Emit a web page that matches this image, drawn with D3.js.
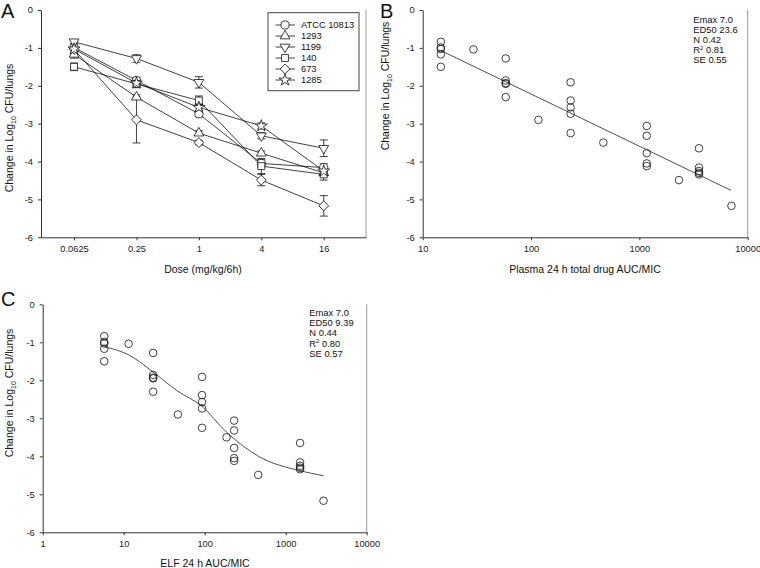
<!DOCTYPE html>
<html><head><meta charset="utf-8">
<script src="https://cdn.jsdelivr.net/npm/d3@7"></script>
<style>
body{margin:0;background:#fff;}
svg{display:block;font-family:"Liberation Sans",Arial,Helvetica,sans-serif;}
.tick text{font-size:9.3px;fill:#222;}
</style></head>
<body>
<svg id="chart" width="760" height="568"></svg>
<script>
// ---------- Data ----------
const doses = [0.0625, 0.25, 1, 4, 16];
const doseLabels = ["0.0625", "0.25", "1", "4", "16"];
const strainNames = ["ATCC 10813", "1293", "1199", "140", "673", "1285"];
const strainSymbols = ["circle", "triUp", "triDown", "square", "diamond", "star"];
const respATCC = [-0.99, -1.86, -2.74, -4.05, -4.16];
const resp1293 = [-1.17, -2.30, -3.25, -3.78, -4.30];
const resp1199 = [-0.84, -1.28, -1.91, -3.32, -3.65];
const resp140  = [-1.50, -1.95, -2.39, -4.12, -4.34];
const resp673  = [-1.04, -2.90, -3.50, -4.49, -5.17];
const resp1285 = [-1.03, -1.93, -2.57, -3.06, -4.25];
const errATCC = [0.08, 0.08, 0.08, 0.10, 0.10];
const err1293 = [0.10, 0.06, 0.06, 0.06, 0.06];
const err1199 = [0.05, 0.10, 0.15, 0.08, 0.22];
const err140  = [0.10, 0.10, 0.12, 0.20, 0.15];
const err673  = [0.08, 0.61, 0.06, 0.15, 0.27];
const err1285 = [0.05, 0.10, 0.08, 0.08, 0.10];

const plasmaAUC = [14.7,14.7,14.7,14.7,14.7, 29.4, 58.4,58.4,58.4,58.4,58.4, 117,
  232,232,232,232,232, 465, 1170,1170,1170,1170,1170, 2323, 3550,3550,3550,3550,3550, 7080];
const plasmaResp = [-0.84,-0.99,-1.03,-1.17,-1.50, -1.04, -1.28,-1.86,-1.93,-1.95,-2.30, -2.90,
  -1.91,-2.39,-2.57,-2.74,-3.25, -3.50, -3.06,-3.32,-3.78,-4.05,-4.12, -4.49, -3.65,-4.16,-4.25,-4.30,-4.34, -5.17];
const plasmaFitX = [14.7, 7000];
const plasmaFitY = [-1.07, -4.76];

const elfAUC = [5.75,5.75,5.75,5.75,5.75, 11.5, 23.1,23.1,23.1,23.1,23.1, 46.7,
  92.7,92.7,92.7,92.7,92.7, 186, 231,231,231,231,231, 458, 1506,1506,1506,1506,1506, 2930];
const elfResp = plasmaResp.slice();
const elfFitX = [5.8, 11.5, 23, 46, 92, 185, 460, 1500, 2930];
const elfFitY = [-1.12, -1.33, -1.78, -2.28, -2.68, -3.36, -4.0, -4.38, -4.51];

const yTicks = [0, -1, -2, -3, -4, -5, -6];
const plasmaTicks = [10, 100, 1000, 10000];
const elfTicks = [1, 10, 100, 1000, 10000];
const statsB = [["Emax 7.0"], ["ED50 23.6"], ["N 0.42"], ["R", "2", "0.81"], ["SE  0.55"]];
const statsC = [["Emax 7.0"], ["ED50 9.39"], ["N 0.44"], ["R", "2", "0.80"], ["SE  0.57"]];

const series = strainNames.map((n, i) => ({
  name: n, sym: strainSymbols[i],
  vals: [respATCC, resp1293, resp1199, resp140, resp673, resp1285][i],
  errs: [errATCC, err1293, err1199, err140, err673, err1285][i]
}));

// ---------- Drawing ----------
const svg = d3.select("#chart");
const AX = "#333";

function symPath(type) {
  switch (type) {
    case "circle": return d3.symbol(d3.symbolCircle, 52)();
    case "triUp": return d3.symbol(d3.symbolTriangle, 42)();
    case "triDown": return d3.symbol(d3.symbolTriangle, 42)();
    case "square": return d3.symbol(d3.symbolSquare, 48)();
    case "diamond": return d3.symbol(d3.symbolSquare, 48)();
    case "star": return d3.symbol(d3.symbolStar, 44)();
  }
}
function symRot(type) {
  if (type === "triDown") return " rotate(180)";
  if (type === "diamond") return " rotate(45)";
  return "";
}

function drawFrame(x, y, tickVals, tickFmt, xTitle, yTitleX, yTitleY, letter, letterX, letterY) {
  const g = svg.append("g");
  const [x0, x1] = x.range();
  const [y0, y1] = y.range();
  g.append("line").attr("x1", x1).attr("x2", x1).attr("y1", y1).attr("y2", y0)
    .attr("stroke", "#999").attr("stroke-width", 1);
  const ya = d3.axisLeft(y).tickValues(yTicks).tickFormat(d => String(d)).tickSize(3).tickSizeOuter(0).tickPadding(5);
  g.append("g").attr("transform", `translate(${x0},0)`).call(ya)
    .call(s => s.selectAll("line,path").attr("stroke", AX));
  const xa = d3.axisBottom(x).tickValues(tickVals).tickFormat((d, i) => tickFmt[i]).tickSize(3).tickSizeOuter(0).tickPadding(5);
  g.append("g").attr("transform", `translate(0,${y0})`).call(xa)
    .call(s => s.selectAll("line,path").attr("stroke", AX));
  g.selectAll(".tick text").attr("font-family", null).style("font-size", "9.3px");
  g.append("text").attr("x", xTitle.x).attr("y", xTitle.y).attr("text-anchor", "middle")
    .style("font-size", "10.5px").attr("fill", "#111").text(xTitle.t);
  const yt = g.append("text").attr("transform", `translate(${yTitleX},${yTitleY}) rotate(-90)`)
    .attr("text-anchor", "middle").style("font-size", "10.5px").attr("fill", "#111");
  yt.append("tspan").text("Change in Log");
  yt.append("tspan").attr("dy", 3).style("font-size", "7px").text("10");
  yt.append("tspan").attr("dy", -3).text(" CFU/lungs");
  g.append("text").attr("x", letterX).attr("y", letterY).style("font-size", "20px").attr("fill", "#111").text(letter);
  return g;
}

function drawStats(lines, x0, yStart, dy) {
  const g = svg.append("g");
  lines.forEach((ln, i) => {
    const t = g.append("text").attr("x", x0).attr("y", yStart + i * dy)
      .style("font-family", "'Liberation Sans Narrow','Arial Narrow','Liberation Sans',sans-serif")
      .style("font-size", "9.4px").attr("fill", "#111");
    if (ln.length === 1) t.text(ln[0]);
    else {
      t.append("tspan").text(ln[0]);
      t.append("tspan").attr("dy", -3.5).style("font-size", "6px").text(ln[1]);
      t.append("tspan").attr("dy", 3.5).text(" " + ln[2]);
    }
  });
}

// ----- Panel A -----
const xA = d3.scaleLog().base(2).domain([0.0300, 40.9]).range([41, 366]);
const yA = d3.scaleLinear().domain([-6, 0]).range([237.3, 10]);
drawFrame(xA, yA, doses, doseLabels, {x: 203, y: 273, t: "Dose (mg/kg/6h)"}, 13, 128, "A", 1, 18);

const gA = svg.append("g");
const lineA = d3.line().x((d, i) => xA(doses[i])).y(d => yA(d));
series.forEach(s => {
  gA.append("path").attr("d", lineA(s.vals)).attr("fill", "none").attr("stroke", "#111").attr("stroke-width", 0.8);
});
series.forEach(s => {
  s.vals.forEach((v, i) => {
    const cx = xA(doses[i]);
    const e = s.errs[i];
    gA.append("line").attr("x1", cx).attr("x2", cx).attr("y1", yA(v - e)).attr("y2", yA(v + e))
      .attr("stroke", "#111").attr("stroke-width", 0.8);
    [v - e, v + e].forEach(yy => gA.append("line").attr("x1", cx - 4).attr("x2", cx + 4)
      .attr("y1", yA(yy)).attr("y2", yA(yy)).attr("stroke", "#111").attr("stroke-width", 0.8));
  });
});
series.forEach(s => {
  s.vals.forEach((v, i) => {
    gA.append("path").attr("d", symPath(s.sym))
      .attr("transform", `translate(${xA(doses[i])},${yA(v)})` + symRot(s.sym))
      .attr("fill", "#fff").attr("stroke", "#111").attr("stroke-width", 0.8);
  });
});
const lg = svg.append("g");
lg.append("rect").attr("x", 268).attr("y", 12.7).attr("width", 91).attr("height", 78)
  .attr("fill", "#fff").attr("stroke", "#444").attr("stroke-width", 1);
series.forEach((s, i) => {
  const yy = 25 + i * 11;
  lg.append("line").attr("x1", 275.5).attr("x2", 295).attr("y1", yy).attr("y2", yy).attr("stroke", "#111").attr("stroke-width", 0.8);
  lg.append("path").attr("d", symPath(s.sym)).attr("transform", `translate(285,${yy})` + symRot(s.sym))
    .attr("fill", "#fff").attr("stroke", "#111").attr("stroke-width", 0.8);
  lg.append("text").attr("x", 301).attr("y", yy + 3.3).style("font-size", "9.3px").attr("fill", "#111").text(s.name);
});

// ----- Panel B -----
const xB = d3.scaleLog().domain([10, 10000]).range([422.7, 747.7]);
const yB = d3.scaleLinear().domain([-6, 0]).range([237.3, 10]);
drawFrame(xB, yB, plasmaTicks, plasmaTicks.map(String), {x: 585, y: 273, t: "Plasma 24 h total drug AUC/MIC"}, 389, 86, "B", 380, 18);
const gB = svg.append("g");
gB.append("path").attr("d", d3.line().x(d => xB(d[0])).y(d => yB(d[1]))(plasmaFitX.map((v, i) => [v, plasmaFitY[i]])))
  .attr("fill", "none").attr("stroke", "#222").attr("stroke-width", 0.8);
plasmaAUC.forEach((v, i) => {
  gB.append("circle").attr("cx", xB(v)).attr("cy", yB(plasmaResp[i])).attr("r", 3.8)
    .attr("fill", "none").attr("stroke", "#111").attr("stroke-width", 0.8);
});
drawStats(statsB, 693.3, 23, 10);

// ----- Panel C -----
const xC = d3.scaleLog().domain([1, 10000]).range([42.7, 366.7]);
const yC = d3.scaleLinear().domain([-6, 0]).range([532.3, 304.3]);
drawFrame(xC, yC, elfTicks, elfTicks.map(String), {x: 205, y: 567, t: "ELF 24 h AUC/MIC"}, 13, 393, "C", 1, 306);
const gC = svg.append("g");
gC.append("path").attr("d", d3.line().curve(d3.curveMonotoneX).x(d => xC(d[0])).y(d => yC(d[1]))(elfFitX.map((v, i) => [v, elfFitY[i]])))
  .attr("fill", "none").attr("stroke", "#222").attr("stroke-width", 0.8);
elfAUC.forEach((v, i) => {
  gC.append("circle").attr("cx", xC(v)).attr("cy", yC(elfResp[i])).attr("r", 3.8)
    .attr("fill", "none").attr("stroke", "#111").attr("stroke-width", 0.8);
});
drawStats(statsC, 309.3, 316, 10.2);
</script>
</body></html>
